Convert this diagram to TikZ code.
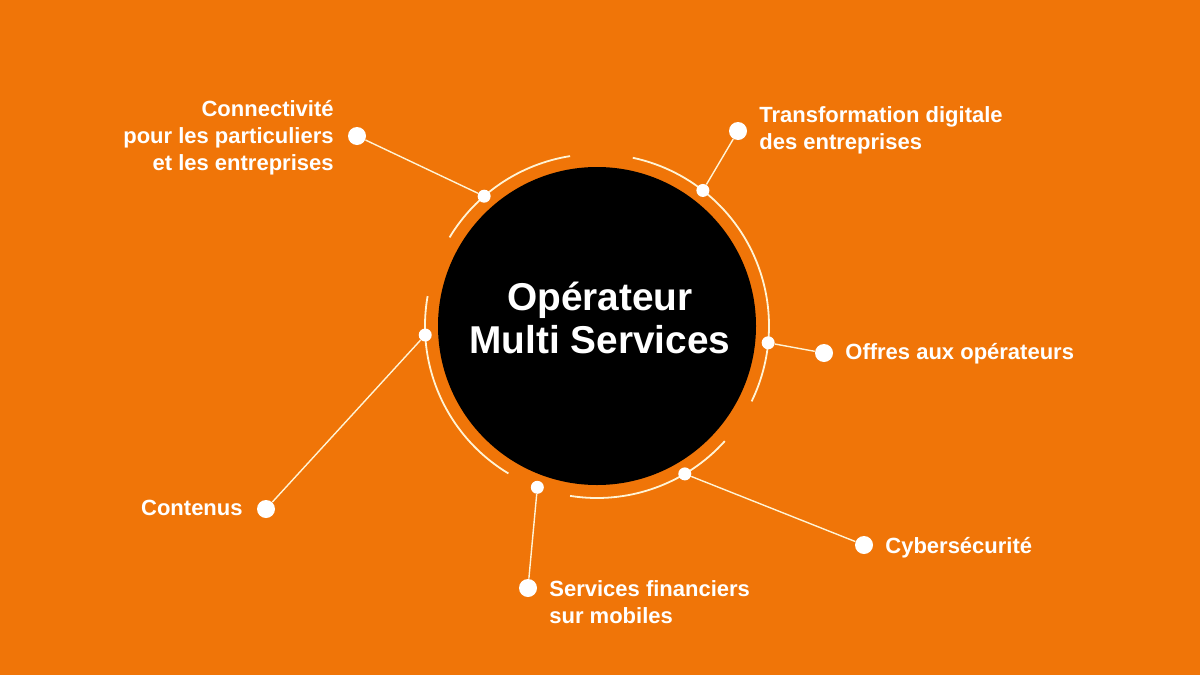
\documentclass[tikz,border=0pt]{standalone}
\usepackage{fontspec}
\setmainfont{Liberation Sans}
\definecolor{bg}{RGB}{240,117,8}
\definecolor{linec}{RGB}{255,244,214}
\begin{document}
\begin{tikzpicture}[x=0.5pt,y=-0.5pt,
  label/.style={text=white,font=\bfseries\fontsize{11}{13.5}\selectfont,inner sep=0pt},
  outerdot/.style={circle,fill=white,minimum size=9pt,inner sep=0pt},
  innerdot/.style={circle,fill=white,minimum size=6.5pt,inner sep=0pt},
  conn/.style={draw=linec,line width=0.7pt},
  ring/.style={draw=linec,line width=0.9pt}]
\useasboundingbox (0,0) rectangle (1200,675);
\fill[bg] (0,0) rectangle (1200,675);
\coordinate (c) at (597,326);
\node[circle,fill=black,minimum size=159pt,inner sep=0pt] (hub) at (c) {};
\node[text=white,font=\bfseries\fontsize{19.4}{21.5}\selectfont,align=center] (title) at (600,318) {Opérateur\\Multi Services};
% rings
\draw[ring] ([shift={(-99:172)}]c) arc[start angle=-99,end angle=-149,radius=172];
\draw[ring] ([shift={(-78:172)}]c) arc[start angle=-78,end angle=26,radius=172];
\draw[ring] ([shift={(42:172)}]c) arc[start angle=42,end angle=99,radius=172];
\draw[ring] ([shift={(-170:172)}]c) arc[start angle=-170,end angle=-239,radius=172];
% inner dots
\node[innerdot] (i1) at ([shift={(-131:172)}]c) {};
\node[innerdot] (i2) at ([shift={(-52:172)}]c) {};
\node[innerdot] (i3) at ([shift={(5.6:172)}]c) {};
\node[innerdot] (i4) at ([shift={(59.3:172)}]c) {};
\node[innerdot] (i5) at ([shift={(110.3:172)}]c) {};
\node[innerdot] (i6) at ([shift={(177:172)}]c) {};
% outer dots
\node[outerdot] (o1) at (357,136) {};
\node[outerdot] (o2) at (738,131) {};
\node[outerdot] (o3) at (824,353) {};
\node[outerdot] (o4) at (864,545) {};
\node[outerdot] (o5) at (528,588) {};
\node[outerdot] (o6) at (266,509) {};
% connectors
\draw[conn] (o1) -- (i1);
\draw[conn] (o2) -- (i2);
\draw[conn] (o3) -- (i3);
\draw[conn] (o4) -- (i4);
\draw[conn] (o5) -- (i5);
\draw[conn] (o6) -- (i6);
% labels
\node[label,align=right,anchor=east] (l1) at (334,138) {Connectivité\\pour les particuliers\\et les entreprises};
\node[label,align=left,anchor=west] (l2) at (759,130) {Transformation digitale\\des entreprises};
\node[label,anchor=west] (l3) at (845,354) {Offres aux opérateurs};
\node[label,anchor=west] (l4) at (885,548) {Cybersécurité};
\node[label,align=left,anchor=west] (l5) at (549,602) {Services financiers\\sur mobiles};
\node[label,anchor=east] (l6) at (243,508) {Contenus};
\end{tikzpicture}
\end{document}
